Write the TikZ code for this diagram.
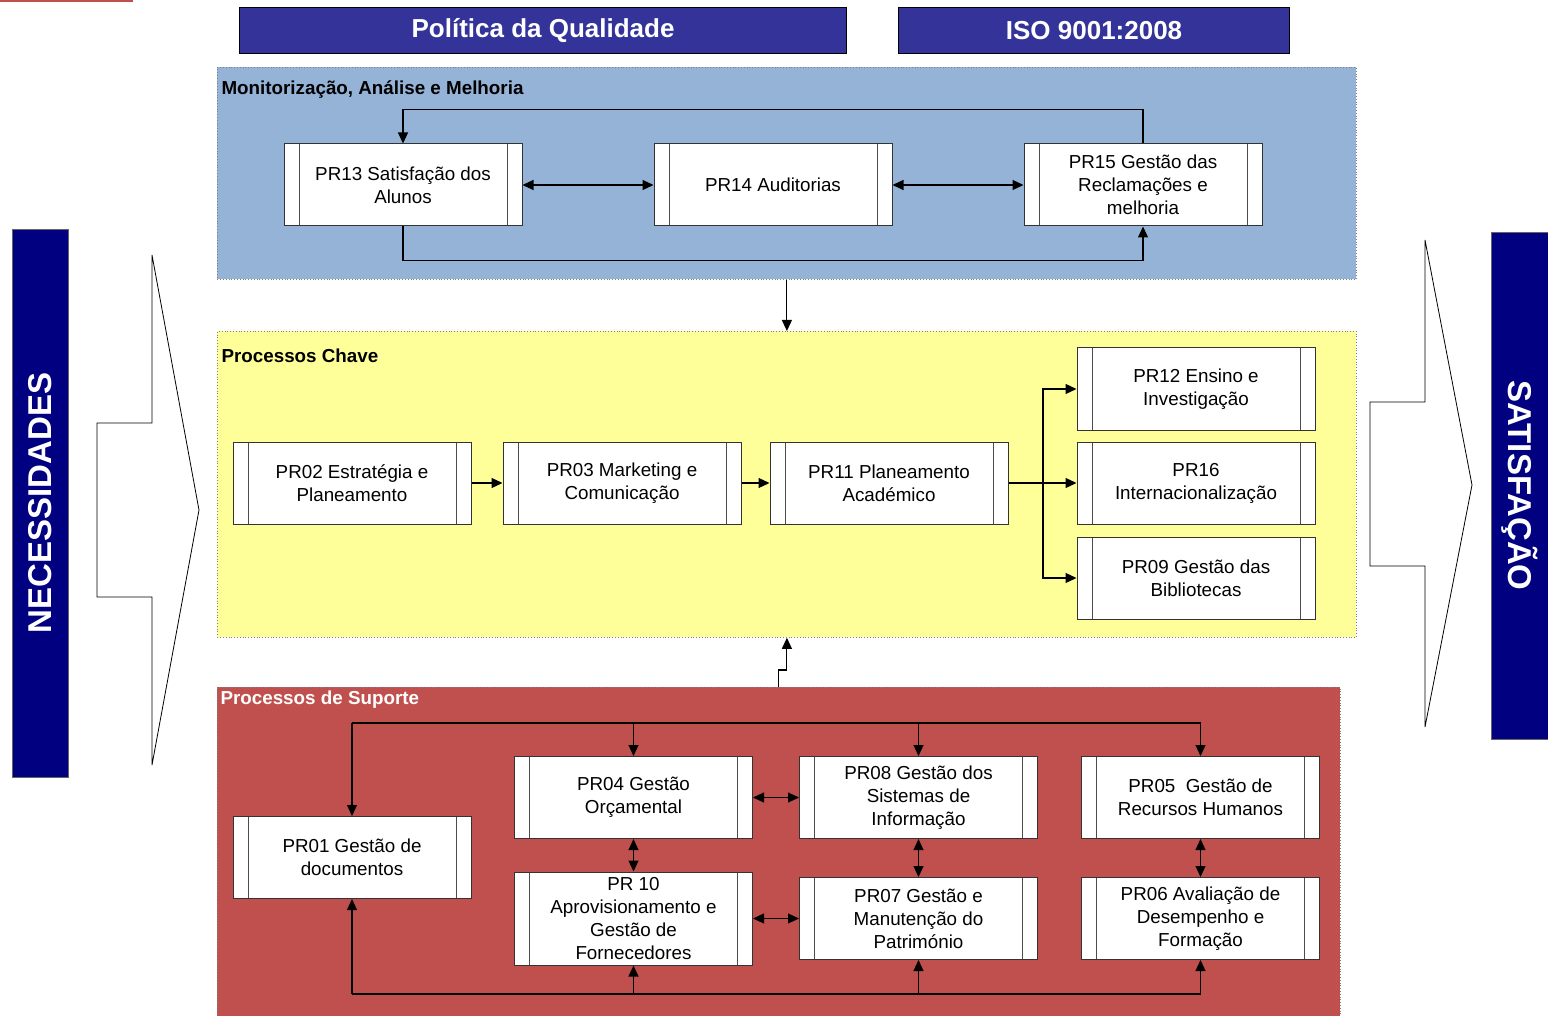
\documentclass[tikz,border=0pt]{standalone}
\usepackage{fontspec}
\setmainfont{Liberation Sans}
\usetikzlibrary{positioning, arrows.meta}
\definecolor{titleblue}{RGB}{51,51,153}
\definecolor{barnavy}{RGB}{0,0,128}
\definecolor{monblue}{RGB}{149,179,215}
\definecolor{chaveyellow}{RGB}{255,255,153}
\definecolor{suportered}{RGB}{192,80,77}

\tikzset{
  proc/.style={draw=black!80, fill=white, line width=0.5pt, inner sep=0pt,
    minimum width=119pt, minimum height=41pt, align=center,
    font=\fontsize{9.4}{11.5}\selectfont,
    path picture={\draw[black!70, line width=0.5pt]
      ([xshift=7.5pt]path picture bounding box.north west) -- ([xshift=7.5pt]path picture bounding box.south west)
      ([xshift=-7.5pt]path picture bounding box.north east) -- ([xshift=-7.5pt]path picture bounding box.south east);}},
  panel/.style={draw=gray, densely dotted, line width=0.4pt, anchor=north west, inner sep=0pt},
  panellabel/.style={anchor=west, inner sep=0pt, font=\bfseries\fontsize{9.4}{11}\selectfont},
  titlebox/.style={draw=black, fill=titleblue, text=white, anchor=north west, inner sep=0pt,
    minimum height=23pt, font=\bfseries\fontsize{13}{15}\selectfont},
  sidebar/.style={draw=black!60, fill=barnavy, text=white, line width=0.3pt, inner sep=0pt,
    minimum height=28pt, font=\bfseries\fontsize{16.5}{18}\selectfont},
  bigarrow/.style={draw=black, fill=white, line width=0.4pt}
}

\begin{document}
\begin{tikzpicture}[x=0.5pt, y=-0.5pt, on grid, line width=0.55pt,
  >={Triangle[length=5.5pt, width=5pt]}]
  \useasboundingbox (0,0) rectangle (1548,1016);
  \draw[suportered, line width=1pt] (0,1) -- (133,1);

  \node[titlebox, minimum width=303.5pt] (politica) at (239,7) {Política da Qualidade};
  \node[titlebox, minimum width=195.5pt] (iso) at (898,7) {ISO 9001:2008};

  \draw[bigarrow] (152,255) -- (199,510) -- (152,765) -- (152,597) -- (97,597) -- (97,423) -- (152,423) -- cycle;
  \draw[bigarrow] (1425,240) -- (1472,485) -- (1425,727) -- (1425,566) -- (1370,566) -- (1370,402) -- (1425,402) -- cycle;
  \node[sidebar, rotate=90, minimum width=274pt] (necess) at (40,503) {NECESSIDADES};
  \node[sidebar, rotate=-90, minimum width=253.5pt, minimum height=28.5pt] (satisf) at (1519.5,485.5) {SATISFAÇÃO};

  \node[panel, fill=monblue, minimum width=569.5pt, minimum height=106pt] (mon) at (217,67) {};
  \node[panel, fill=chaveyellow, minimum width=569.5pt, minimum height=153pt] (chave) at (217,331) {};
  \node[panel, fill=suportered, minimum width=561.5pt, minimum height=167.5pt] (sup) at (217,687) {};
  \node[panellabel] (monlabel) at (221,90) {Monitorização, Análise e Melhoria};
  \node[panellabel] (chavelabel) at (221,356) {Processos Chave};
  \node[panellabel, text=white] (suplabel) at (220,700) {Processos de Suporte};

  \node[proc] (pr13) at (403,185) {PR13 Satisfação dos\\Alunos};
  \begin{scope}[node distance=185pt]
  \node[proc] (pr14) [right=of pr13] {PR14 Auditorias};
  \node[proc] (pr15) [right=of pr14] {PR15 Gestão das\\Reclamações e\\melhoria};
  \end{scope}

  \node[proc] (pr02) at (352,483) {PR02 Estratégia e\\Planeamento};
  \node[proc] (pr03) [right=135pt of pr02] {PR03 Marketing e\\Comunicação};
  \node[proc] (pr11) [right=133.5pt of pr03] {PR11 Planeamento\\Académico};
  \node[proc] (pr16) [right=153.5pt of pr11] {PR16\\Internacionalização};
  \node[proc] (pr12) [above=47pt of pr16] {PR12 Ensino e\\Investigação};
  \node[proc] (pr09) [below=47.5pt of pr16] {PR09 Gestão das\\Bibliotecas};

  \node[proc] (pr01) at (352,857.5) {PR01 Gestão de\\documentos};
  \node[proc] (pr04) at (633.5,797.5) {PR04 Gestão\\Orçamental};
  \node[proc] (pr08) [right=142.5pt of pr04] {PR08 Gestão dos\\Sistemas de\\Informação};
  \node[proc] (pr05) [right=141pt of pr08] {PR05\ \ Gestão de\\Recursos Humanos};
  \begin{scope}[node distance=60.5pt]
  \node[proc, minimum height=46.5pt] (pr10) [below=of pr04] {PR 10\\Aprovisionamento e\\Gestão de\\Fornecedores};
  \node[proc] (pr07) [below=of pr08] {PR07 Gestão e\\Manutenção do\\Património};
  \node[proc] (pr06) [below=of pr05] {PR06 Avaliação de\\Desempenho e\\Formação};
  \end{scope}

  \path[<->]
  (pr13) edge (pr14)
  (pr14) edge (pr15)
  (pr04) edge (pr08)
  (pr10) edge (pr07)
  (pr04) edge (pr10)
  (pr08) edge (pr07)
  (pr05) edge (pr06)
  ;
  \path[->]
  (pr02) edge (pr03)
  (pr03) edge (pr11)
  (mon) edge (chave)
  ;
  \draw[->] (pr15.north) -- ++(0,-34) -| (pr13.north);
  \draw[->] (pr13.south) -- ++(0,34) -| (pr15.south);

  \coordinate (fan) at (1043,483);
  \draw (pr11.east) -- (fan);
  \draw[->] (fan) -- (pr16.west);
  \draw[->] (fan) |- (pr12.west);
  \draw[->] (fan) |- (pr09.west);

  \draw[->] (sup.north) -- ++(0,-17) -| (chave.south);

  \coordinate (busT) at (352,723);
  \coordinate (busB) at (352,994);
  \draw (busT) -- (pr05.north |- busT);
  \draw (busB) -- (pr06.south |- busB);
  \draw[->] (busT) -- (pr01.north);
  \draw[->] (busB) -- (pr01.south);
  \foreach \p in {pr04, pr08, pr05}
    \draw[->] (\p.north |- busT) -- (\p.north);
  \foreach \p in {pr10, pr07, pr06}
    \draw[->] (\p.south |- busB) -- (\p.south);
\end{tikzpicture}
\end{document}
